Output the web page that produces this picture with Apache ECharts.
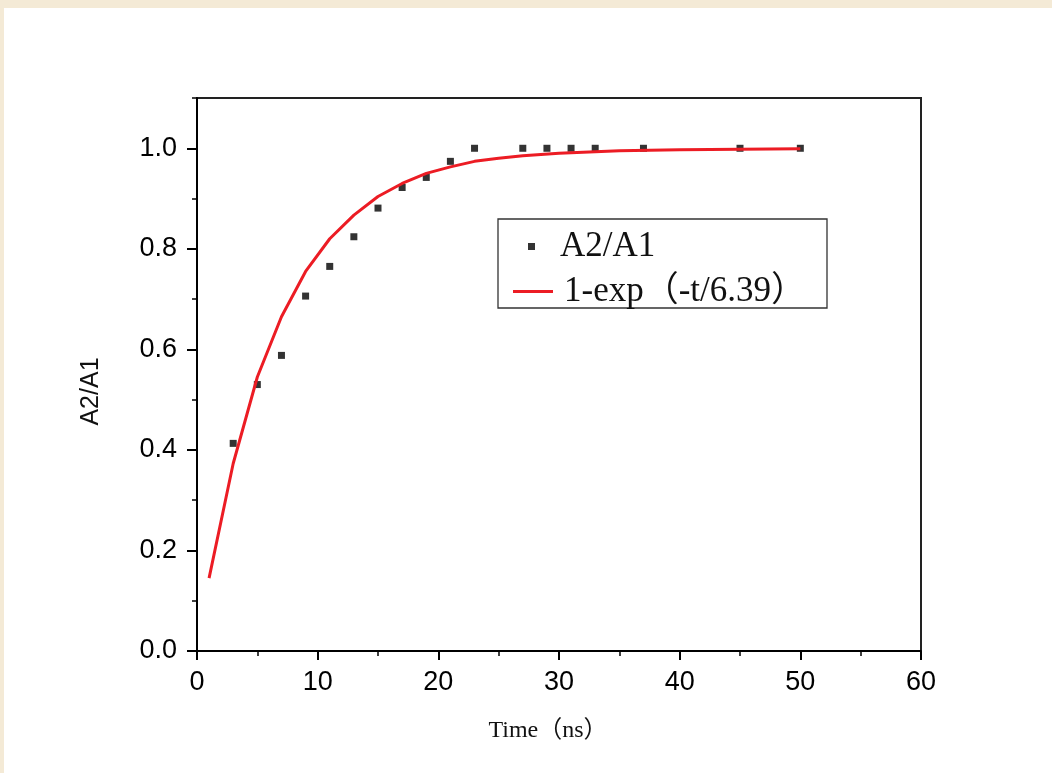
<!DOCTYPE html>
<html>
<head>
<meta charset="utf-8">
<script src="https://cdn.jsdelivr.net/npm/echarts@6/dist/echarts.min.js"></script>
<style>
    body { margin: 0; background: #f4ead6; }
    #frame { position: absolute; left: 4px; top: 8px; right: 0; bottom: 0; background: #fff; }
    #main { position: absolute; left: 0; top: 0; width: 1052px; height: 773px; }
</style>
</head>
<body>
<div id="frame"></div>
<div id="main"></div>
<script>
    // measured points A2/A1
    var timeNs = [3, 5, 7, 9, 11, 13, 15, 17, 19, 21, 23, 27, 29, 31, 33, 37, 45, 50];
    var ratio = [0.413, 0.530, 0.588, 0.706, 0.765, 0.824, 0.881, 0.922, 0.942, 0.974, 1.0, 1.0, 1.0, 1.0, 1.0, 1.0, 1.0, 1.0];

    // fitted curve
    var fitT = [1, 3, 5, 7, 9, 11, 13, 15, 17, 19, 21, 23, 25, 27, 30, 35, 40, 45, 50];
    var fitY = [0.145, 0.373, 0.545, 0.665, 0.755, 0.82, 0.867, 0.904, 0.93, 0.95, 0.963, 0.974, 0.98, 0.985, 0.99, 0.995, 0.997, 0.998, 0.999];

    var yLabels = [0, 0.2, 0.4, 0.6, 0.8, 1.0];
    var scatterName = 'A2/A1';
    var fitName = '1-exp（-t/6.39）';

    function pairs(xs, ys) {
        return xs.map(function (x, i) { return [x, ys[i]]; });
    }

    var serif = '"Liberation Serif", "Noto Sans CJK SC", serif';
    var sans = '"Liberation Sans", Arial, sans-serif';

    var option = {
        animation: false,
        backgroundColor: 'transparent',
        grid: {
            left: 197, top: 98, right: 131, bottom: 122,
            show: true, borderColor: '#222', borderWidth: 2
        },
        legend: [
            {
                data: [scatterName],
                left: 528, top: 229,
                padding: 0,
                itemWidth: 7, itemHeight: 7,
                textStyle: { fontFamily: serif, fontSize: 35, color: '#111', padding: [0, 0, 8, 20] }
            },
            {
                data: [{ name: fitName, icon: 'path://M0,0 L40,0 L40,3 L0,3 Z' }],
                left: 513, top: 274,
                padding: 0,
                itemWidth: 40, itemHeight: 14,
                textStyle: { fontFamily: serif, fontSize: 35, color: '#111', padding: [0, 0, 4, 6] }
            }
        ],
        graphic: [{
            type: 'rect',
            shape: { x: 498, y: 219, width: 329, height: 89 },
            style: { fill: 'rgba(0,0,0,0)', stroke: '#333', lineWidth: 1.3 },
            silent: true
        }],
        xAxis: {
            type: 'value',
            min: 0, max: 60, interval: 10,
            name: 'Time（ns）',
            nameLocation: 'middle',
            nameGap: 68,
            nameTextStyle: { fontFamily: serif, fontSize: 24, color: '#111', padding: [0, 22, 0, 0] },
            axisLine: { lineStyle: { color: '#000', width: 2 } },
            axisTick: { inside: false, length: 9, lineStyle: { color: '#000', width: 2 } },
            minorTick: { show: true, splitNumber: 2, length: 5, lineStyle: { color: '#000', width: 1.5 } },
            splitLine: { show: false },
            axisLabel: { fontFamily: sans, fontSize: 27, color: '#000', margin: 18 }
        },
        yAxis: [
            {
                type: 'value',
                min: 0, max: 1.1,
                name: 'A2/A1',
                nameLocation: 'middle',
                nameRotate: 90,
                nameGap: 93,
                nameTextStyle: { fontFamily: sans, fontSize: 25, color: '#111', padding: [0, 34, 0, 0] },
                axisLine: { lineStyle: { color: '#000', width: 2 } },
                axisTick: { inside: false, length: 10, customValues: yLabels, lineStyle: { color: '#000', width: 2 } },
                splitLine: { show: false },
                axisLabel: {
                    customValues: yLabels,
                    fontFamily: sans, fontSize: 27, color: '#000', margin: 20,
                    formatter: function (v) { return v.toFixed(1); }
                }
            },
            {
                // minor ticks every 0.1
                type: 'value',
                position: 'left',
                min: 0, max: 1.1, interval: 0.1,
                axisLine: { show: false },
                axisTick: { inside: false, length: 5, lineStyle: { color: '#000', width: 1.5 } },
                axisLabel: { show: false },
                splitLine: { show: false }
            }
        ],
        series: [
            {
                name: scatterName,
                type: 'scatter',
                symbol: 'rect',
                symbolSize: 7,
                itemStyle: { color: '#000' },
                data: pairs(timeNs, ratio)
            },
            {
                name: fitName,
                type: 'line',
                showSymbol: false,
                symbol: 'none',
                lineStyle: { color: '#ec1c24', width: 3 },
                itemStyle: { color: '#ec1c24' },
                data: pairs(fitT, fitY)
            }
        ]
    };

    var myChart = echarts.init(document.getElementById('main'));
    myChart.setOption(option);
</script>
</body>
</html>
